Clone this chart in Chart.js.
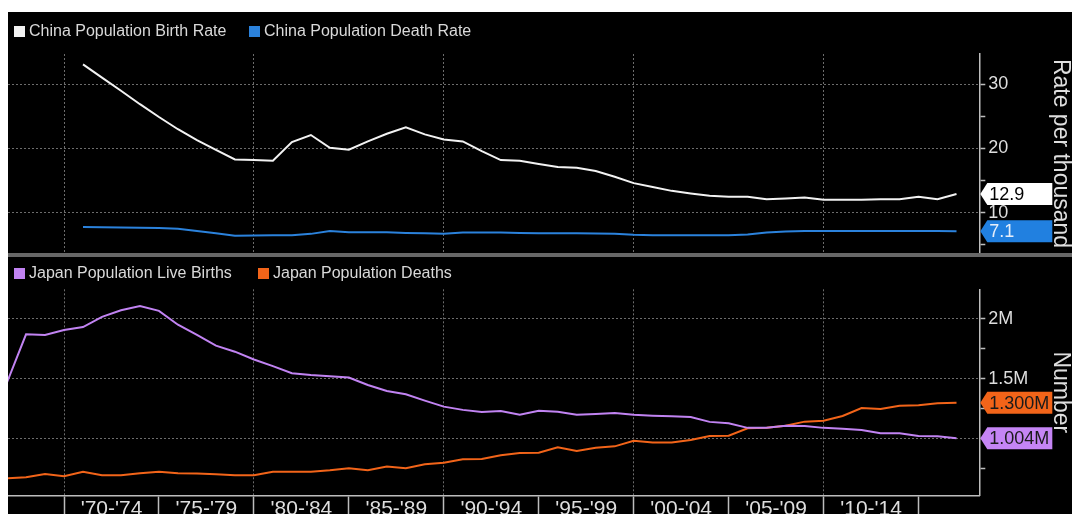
<!DOCTYPE html>
<html>
<head>
<meta charset="utf-8">
<script src="https://cdn.jsdelivr.net/npm/chart.js@4.4.1/dist/chart.umd.min.js"></script>
<style>
  html, body { margin: 0; padding: 0; background: #fff; }
  #frame { position: absolute; left: 8px; top: 12px; width: 1064px; height: 502px; background: #000; overflow: hidden;
           font-family: "Liberation Sans", Arial, sans-serif; }
  .panel { position: absolute; left: 0; width: 1064px; }
  #topPanel { top: 0; height: 241px; }
  #bottomPanel { top: 245px; height: 257px; }
  #sep { position: absolute; left: 0; top: 241px; width: 1064px; height: 4px; background: #676767; }
  .legend { position: absolute; color: #d9d9d9; font-size: 16px; line-height: 16px; white-space: nowrap; }
  .legend i { display: inline-block; width: 11px; height: 11px; margin-right: 4px; vertical-align: -1px; }
</style>
</head>
<body>
<div id="frame">
  <div class="panel" id="topPanel"><canvas id="chinaChart"></canvas></div>
  <div id="sep"></div>
  <div class="panel" id="bottomPanel"><canvas id="japanChart"></canvas></div>

  <div class="legend" style="left:6px;top:11px"><i style="background:#f2f2f2"></i>China Population Birth Rate</div>
  <div class="legend" style="left:241px;top:11px"><i style="background:#2b82dc"></i>China Population Death Rate</div>
  <div class="legend" style="left:6px;top:253px"><i style="background:#c183f2"></i>Japan Population Live Births</div>
  <div class="legend" style="left:250px;top:253px"><i style="background:#f26419"></i>Japan Population Deaths</div>
</div>

<script>
// China, per thousand, 1970..2016
const chinaStartYear = 1970;
const chinaBirthRate = [
  33.1, 31.05, 29.0, 26.9, 24.9, 23.0, 21.3, 19.8, 18.3, 18.2,
  18.1, 21.0, 22.1, 20.1, 19.8, 21.1, 22.3, 23.3, 22.2, 21.4,
  21.1, 19.6, 18.2, 18.1, 17.6, 17.1, 17.0, 16.5, 15.6, 14.6,
  14.0, 13.4, 13.0, 12.65, 12.5, 12.5, 12.1, 12.2, 12.35, 12.0,
  12.0, 12.0, 12.1, 12.1, 12.5, 12.1, 12.9
];
const chinaDeathRate = [
  7.77, 7.74, 7.7, 7.66, 7.6, 7.5, 7.15, 6.8, 6.42, 6.45,
  6.5, 6.5, 6.7, 7.15, 6.95, 6.95, 6.95, 6.85, 6.8, 6.7,
  6.9, 6.9, 6.9, 6.85, 6.8, 6.8, 6.8, 6.75, 6.7, 6.55,
  6.5, 6.5, 6.5, 6.5, 6.5, 6.6, 6.9, 7.05, 7.15, 7.15,
  7.15, 7.15, 7.15, 7.15, 7.15, 7.15, 7.1
];

// Japan, millions of people, 1966..2016
const japanStartYear = 1966;
const japanLiveBirths = [
  1.47, 1.87, 1.865, 1.906,
  1.93, 2.015, 2.07, 2.105, 2.065, 1.95, 1.865, 1.775, 1.725, 1.66,
  1.605, 1.545, 1.53, 1.52, 1.51, 1.447, 1.397, 1.37, 1.317, 1.267,
  1.24, 1.222, 1.23, 1.2, 1.233, 1.225, 1.2, 1.206, 1.214, 1.2,
  1.192, 1.186, 1.181, 1.14, 1.128, 1.09, 1.092, 1.108, 1.106, 1.09,
  1.083, 1.073, 1.045, 1.045, 1.022, 1.02, 1.004
];
const japanDeaths = [
  0.67, 0.678, 0.706, 0.686,
  0.725, 0.695, 0.695, 0.711, 0.725, 0.711, 0.709, 0.703, 0.695, 0.695,
  0.725, 0.725, 0.725, 0.736, 0.753, 0.736, 0.767, 0.753, 0.786, 0.8,
  0.828, 0.83, 0.861, 0.88, 0.883, 0.928, 0.897, 0.925, 0.936, 0.983,
  0.969, 0.969, 0.989, 1.022, 1.025, 1.086, 1.092, 1.108, 1.142, 1.15,
  1.189, 1.256, 1.247, 1.275, 1.278, 1.295, 1.3
];

// x axis: five year buckets
const periodStarts = [1970, 1975, 1980, 1985, 1990, 1995, 2000, 2005, 2010];
const periodLabels = ["'70-'74", "'75-'79", "'80-'84", "'85-'89", "'90-'94", "'95-'99", "'00-'04", "'05-'09", "'10-'14"];
const lastBoundary = 2015;

const chinaTicks = [5, 10, 15, 20, 25, 30];
const japanTicks = [0.75, 1, 1.25, 1.5, 1.75, 2];

const FONT = '"Liberation Sans", Arial, sans-serif';
const AXIS = '#bdbdbd';
const GRID = '#6c6c6c';
const TEXT = '#dedede';
const X_MIN = 1967.05, X_MAX = 2018.2;
const AXIS_W = 92.7;

// annual figures are stamped at year end, so each sits at the start of the next year
const toPoints = (start, arr) => arr.map((v, i) => ({ x: start + i + 1, y: v }));

function periodTicks() {
  const t = [];
  periodStarts.forEach((s, i) => {
    t.push({ value: s });
    t.push({ value: s + 2.5, period: periodLabels[i] });
  });
  t.push({ value: lastBoundary });
  return t;
}

function xAxis(showLabels) {
  return {
    type: 'linear', min: X_MIN, max: X_MAX,
    afterBuildTicks: s => { s.ticks = periodTicks(); },
    afterFit: s => { s.height = showLabels ? 18.7 : 0; s.paddingLeft = 0; s.paddingRight = 0; },
    grid: {
      color: c => (c.tick && c.tick.value % 10 === 0) ? GRID : 'transparent',
      lineWidth: 1,
      drawTicks: showLabels,
      tickLength: 19,
      tickWidth: 1.5,
      tickColor: c => (c.tick && Number.isInteger(c.tick.value)) ? AXIS : 'transparent',
      tickBorderDash: []
    },
    border: { display: showLabels, color: AXIS, width: 1.5, dash: [2, 2] },
    ticks: {
      display: showLabels, autoSkip: false, maxRotation: 0, minRotation: 0, padding: -18,
      color: TEXT, font: { family: FONT, size: 21 },
      callback: (v, i, ticks) => ticks[i].period || ''
    }
  };
}

function yAxis(min, max, ticks, isMajor, fmt, title) {
  return {
    position: 'right', min: min, max: max,
    afterBuildTicks: s => { s.ticks = ticks.map(v => ({ value: v })); },
    afterFit: s => { s.width = AXIS_W; s.paddingTop = 0; s.paddingBottom = 0; },
    grid: {
      color: c => (c.tick && isMajor(c.tick.value)) ? GRID : 'transparent',
      lineWidth: 1,
      tickLength: 6,
      tickWidth: 1.5,
      tickColor: AXIS,
      tickBorderDash: []
    },
    border: { color: AXIS, width: 1.5, dash: [2, 2] },
    ticks: {
      padding: 3, color: TEXT, font: { family: FONT, size: 18 },
      callback: v => isMajor(v) ? fmt(v) : ''
    },
    title: { display: true, text: title, color: TEXT, font: { family: FONT, size: 23, lineHeight: 1 }, padding: 0 }
  };
}

// value tags on the right axis
const lastValueTags = {
  id: 'lastValueTags',
  afterDraw(chart, args, opts) {
    const { ctx, chartArea } = chart;
    const yScale = chart.scales.y;
    chart.data.datasets.forEach((ds, i) => {
      const tag = opts.tags[i];
      const last = ds.data[ds.data.length - 1].y;
      const y = yScale.getPixelForValue(last);
      const tip = chartArea.right + 1, body = tip + 7, right = tip + 72, h = 22;
      ctx.save();
      ctx.fillStyle = tag.bg;
      ctx.beginPath();
      ctx.moveTo(tip, y);
      ctx.lineTo(body, y - h / 2);
      ctx.lineTo(right, y - h / 2);
      ctx.lineTo(right, y + h / 2);
      ctx.lineTo(body, y + h / 2);
      ctx.closePath();
      ctx.fill();
      ctx.fillStyle = tag.fg;
      ctx.font = '18px ' + FONT;
      ctx.textBaseline = 'middle';
      ctx.fillText(tag.fmt(last), tip + 9, y + 1);
      ctx.restore();
    });
  }
};

function line(points, color) {
  return { data: points, borderColor: color, borderWidth: 2, pointRadius: 0, tension: 0, fill: false };
}

const baseOptions = (padTop, showX, y, tags) => ({
  responsive: true,
  maintainAspectRatio: false,
  animation: false,
  layout: { padding: { top: padTop, left: 0, right: 0, bottom: 0 } },
  plugins: { legend: { display: false }, tooltip: { enabled: false }, lastValueTags: { tags: tags } },
  scales: { x: xAxis(showX), y: y }
});

new Chart(document.getElementById('chinaChart'), {
  type: 'line',
  data: {
    datasets: [
      line(toPoints(chinaStartYear, chinaBirthRate), '#f2f2f2'),
      line(toPoints(chinaStartYear, chinaDeathRate), '#2b82dc')
    ]
  },
  options: baseOptions(42, false,
    yAxis(3.72, 34.72, chinaTicks, v => v % 10 === 0, v => String(v), 'Rate per thousand'),
    [
      { bg: '#ffffff', fg: '#000000', fmt: v => v.toFixed(1) },
      { bg: '#2180e0', fg: '#e6eefa', fmt: v => v.toFixed(1) }
    ]),
  plugins: [lastValueTags]
});

new Chart(document.getElementById('japanChart'), {
  type: 'line',
  data: {
    datasets: [
      line(toPoints(japanStartYear, japanLiveBirths), '#c183f2'),
      line(toPoints(japanStartYear, japanDeaths), '#f26419')
    ]
  },
  options: baseOptions(32.3, true,
    yAxis(0.528, 2.245, japanTicks, v => Math.abs(v * 2 - Math.round(v * 2)) < 1e-9, v => v + 'M', 'Number'),
    [
      { bg: '#c585f5', fg: '#1a1a1a', fmt: v => v.toFixed(3) + 'M' },
      { bg: '#f26419', fg: '#1a1a1a', fmt: v => v.toFixed(3) + 'M' }
    ]),
  plugins: [lastValueTags]
});
</script>
</body>
</html>
